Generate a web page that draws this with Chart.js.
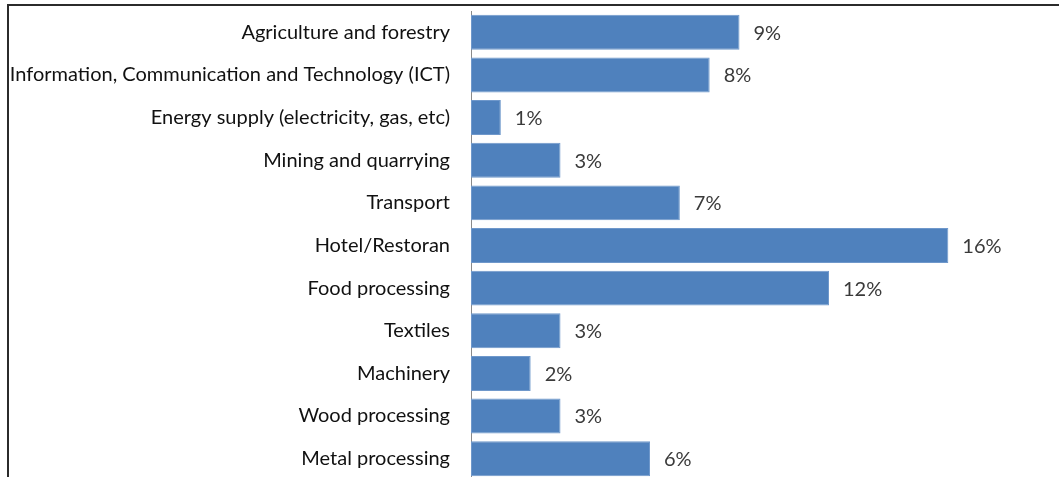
<!DOCTYPE html>
<html>
<head>
<meta charset="utf-8">
<script src="https://cdn.jsdelivr.net/npm/chart.js@4/dist/chart.umd.min.js"></script>
<style>
  html, body { margin: 0; padding: 0; background: #fff; overflow: hidden; }
  #wrap { position: relative; width: 1059px; height: 477px; overflow: hidden; }
  #frame { position: absolute; left: 7px; top: 4px; width: 1100px; height: 520px;
           border-top: 2px solid #2b2b2b; border-left: 2px solid #2b2b2b; }
  #chart { position: absolute; left: 0; top: 0; }
</style>
</head>
<body>
<div id="wrap">
  <div id="frame"></div>
  <canvas id="chart" width="1059" height="482"></canvas>
</div>
<script>
// Share of enterprises by sector
const sectors = [
  'Agriculture and forestry',
  'Information, Communication and Technology (ICT)',
  'Energy supply (electricity, gas, etc)',
  'Mining and quarrying',
  'Transport',
  'Hotel/Restoran',
  'Food processing',
  'Textiles',
  'Machinery',
  'Wood processing',
  'Metal processing'
];
const shares = [9, 8, 1, 3, 7, 16, 12, 3, 2, 3, 6];

const FONT = 'Lato, "Open Sans", sans-serif';

// value labels to the right of each bar
const valueLabels = {
  id: 'valueLabels',
  afterDatasetsDraw(chart) {
    const ctx = chart.ctx;
    const meta = chart.getDatasetMeta(0);
    ctx.save();
    ctx.font = '20px ' + FONT;
    ctx.fillStyle = '#3a3a3a';
    ctx.textAlign = 'left';
    ctx.textBaseline = 'middle';
    meta.data.forEach((bar, i) => {
      ctx.fillText(shares[i] + '%', bar.x + 14, bar.y + 1);
    });
    ctx.restore();
  }
};

new Chart(document.getElementById('chart'), {
  type: 'bar',
  data: {
    labels: sectors,
    datasets: [{
      data: shares,
      backgroundColor: '#4f81bd',
      borderColor: '#6f98cb',
      borderWidth: 1,
      borderSkipped: false,
      barPercentage: 0.82,
      categoryPercentage: 1
    }]
  },
  options: {
    indexAxis: 'y',
    responsive: false,
    animation: false,
    layout: { padding: { top: 11, bottom: 2, left: 0, right: 51 } },
    plugins: { legend: { display: false }, tooltip: { enabled: false } },
    scales: {
      x: { display: false, min: 0, max: 18 },
      y: {
        grid: { display: false, drawTicks: false },
        border: { display: true, color: '#8a8a8a', width: 1 },
        ticks: { color: '#111', padding: 21, font: { family: FONT, size: 20 } },
        afterFit(scale) {
          // fixed label column; tick padding shouldn't push the plot down
          scale.width = 471;
          scale.paddingTop = 0;
          scale.paddingBottom = 0;
        }
      }
    }
  },
  plugins: [valueLabels]
});
</script>
</body>
</html>
